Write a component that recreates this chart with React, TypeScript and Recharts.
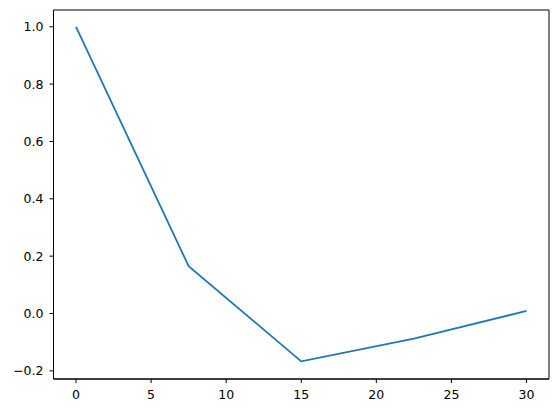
import { LineChart, Line, XAxis, YAxis, ReferenceArea } from "recharts";

const xValues = [0, 7.5, 15, 22.5, 30];
const yValues = [1.0, 0.165, -0.167, -0.088, 0.009];
const xTicks = [0, 5, 10, 15, 20, 25, 30];
const yTicks = [-0.2, 0, 0.2, 0.4, 0.6, 0.8, 1.0];

const data = xValues.map((x, i) => ({ x, y: yValues[i] }));

const font = "'DejaVu Sans', sans-serif";
const tickStyle = { fill: "#000", fontSize: 12.5, fontFamily: font };

const formatY = (v: number) => v.toFixed(1).replace("-", "\u2212");

const App = () => {
  return (
    <div style={{ position: "absolute", left: 0, top: 0, background: "#fff" }}>
      <LineChart
        width={559}
        height={413}
        data={data}
        margin={{ top: 10, right: 10, left: 0, bottom: 0 }}
      >
        <XAxis
          dataKey="x"
          type="number"
          domain={[-1.5, 31.5]}
          ticks={xTicks}
          height={34}
          tick={tickStyle}
          tickSize={4}
          tickMargin={7}
          stroke="#000"
          allowDataOverflow
        />
        <YAxis
          type="number"
          domain={[-0.2285, 1.0585]}
          ticks={yTicks}
          width={53.5}
          tick={tickStyle}
          tickSize={4}
          tickMargin={6}
          tickFormatter={formatY}
          stroke="#000"
          allowDataOverflow
        />
        <ReferenceArea
          x1={-1.5}
          x2={31.5}
          y1={-0.2285}
          y2={1.0585}
          fill="none"
          stroke="#000"
          strokeWidth={1}
          ifOverflow="visible"
        />
        <Line
          dataKey="y"
          stroke="#1f77b4"
          strokeWidth={1.8}
          dot={false}
          activeDot={false}
          isAnimationActive={false}
        />
      </LineChart>
    </div>
  );
};

export default App;
